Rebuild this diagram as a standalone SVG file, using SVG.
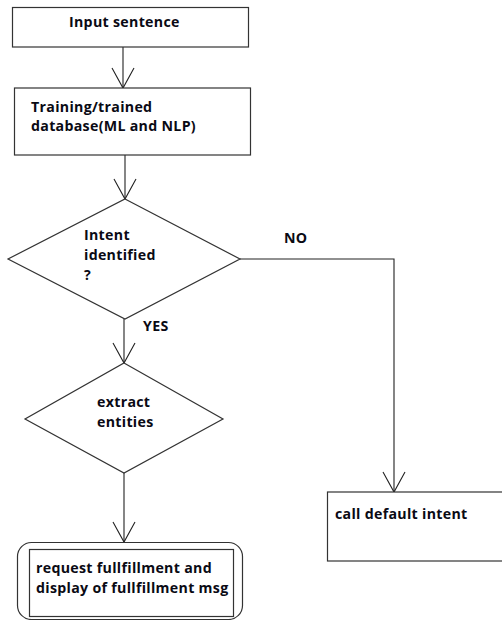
<svg xmlns="http://www.w3.org/2000/svg" width="502" height="620" viewBox="0 0 502 620">
<style>
.shape{fill:#fff;stroke:#333;stroke-width:1.2}
.lbl{font-family:"Open Sans","Liberation Sans",sans-serif;font-weight:700;font-size:14.2px;letter-spacing:0.3px;fill:#0a0a14}
.conn{fill:none;stroke:#222;stroke-width:1.1}
</style>
<defs>
<marker id="v" markerUnits="userSpaceOnUse" markerWidth="40" markerHeight="40" refX="0" refY="0" viewBox="-30 -20 40 40" orient="auto">
<path d="M-20,-11 L0,0 L-20,11" fill="none" stroke="#222" stroke-width="1.1"/>
</marker>
</defs>
<rect width="502" height="620" fill="#fff"/>
<g id="connectors">
<path class="conn" d="M123,47 V88" marker-end="url(#v)"/>
<path class="conn" d="M125,155 V199" marker-end="url(#v)"/>
<path class="conn" d="M124,319 V363" marker-end="url(#v)"/>
<path class="conn" d="M124,473 V542" marker-end="url(#v)"/>
<path class="conn" d="M240,259 H394 V492" marker-end="url(#v)"/>
<text class="lbl" x="284" y="243">NO</text>
<text class="lbl" x="143" y="331">YES</text>
</g>
<g id="input">
<rect class="shape" x="12.5" y="7.5" width="236" height="39.5"/>
<text class="lbl" x="69" y="27">Input sentence</text>
</g>
<g id="training">
<rect class="shape" x="14.5" y="88" width="236" height="67"/>
<text class="lbl" x="31" y="112">Training/trained</text>
<text class="lbl" x="31" y="131">database(ML and NLP)</text>
</g>
<g id="intent">
<polygon class="shape" points="125,199 240,259 125,319 8,259"/>
<text class="lbl" x="84" y="240">Intent</text>
<text class="lbl" x="84" y="260">identified</text>
<text class="lbl" x="84" y="280">?</text>
</g>
<g id="extract">
<polygon class="shape" points="124,363 223,419 124,473 25,419"/>
<text class="lbl" x="97" y="407">extract</text>
<text class="lbl" x="97" y="427">entities</text>
</g>
<g id="default">
<rect class="shape" x="327.5" y="492" width="190" height="69"/>
<text class="lbl" x="335" y="519">call default intent</text>
</g>
<g id="fulfillment">
<rect class="shape" x="17.5" y="542.5" width="225" height="77" rx="14"/>
<rect class="shape" x="29.5" y="549.5" width="204" height="67"/>
<text class="lbl" x="36" y="573">request fullfillment and</text>
<text class="lbl" x="36" y="593">display of fullfillment msg</text>
</g>
</svg>
